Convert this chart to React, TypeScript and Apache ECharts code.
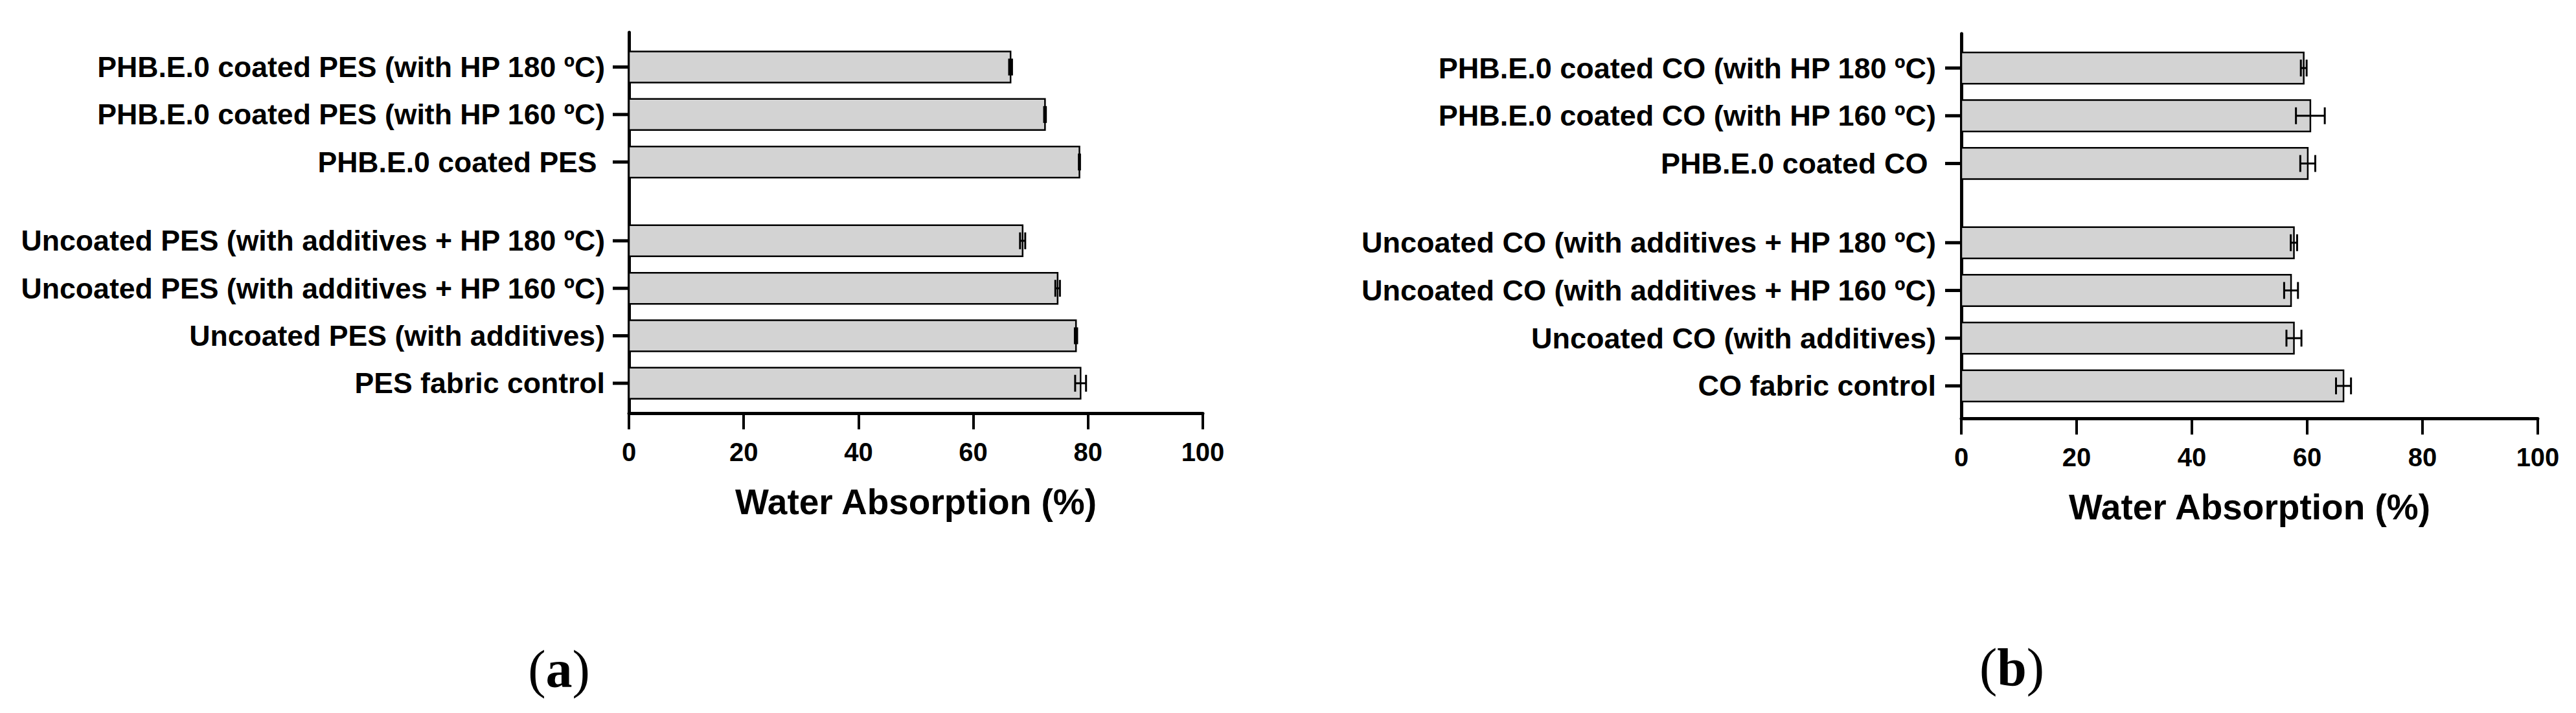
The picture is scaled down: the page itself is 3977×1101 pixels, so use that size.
import React, { useEffect, useRef } from "react";
import * as echarts from "echarts";

// ---------- Data (bottom to top, as drawn) ----------
const categoriesA = [
  "PES fabric control",
  "Uncoated PES (with additives)",
  "Uncoated PES (with additives + HP 160 ºC)",
  "Uncoated PES (with additives + HP 180 ºC)",
  "PHB.E.0 coated PES ",
  "PHB.E.0 coated PES (with HP 160 ºC)",
  "PHB.E.0 coated PES (with HP 180 ºC)",
];
const groupsA = [0, 0, 0, 0, 1, 1, 1];
const valuesA = [78.7, 77.9, 74.7, 68.6, 78.5, 72.5, 66.5];
const errorsA = [0.95, 0.2, 0.4, 0.45, 0.1, 0.15, 0.25];

const categoriesB = [
  "CO fabric control",
  "Uncoated CO (with additives)",
  "Uncoated CO (with additives + HP 160 ºC)",
  "Uncoated CO (with additives + HP 180 ºC)",
  "PHB.E.0 coated CO ",
  "PHB.E.0 coated CO (with HP 160 ºC)",
  "PHB.E.0 coated CO (with HP 180 ºC)",
];
const groupsB = [0, 0, 0, 0, 1, 1, 1];
const valuesB = [66.3, 57.7, 57.2, 57.7, 60.1, 60.55, 59.4];
const errorsB = [1.3, 1.3, 1.2, 0.55, 1.3, 2.5, 0.5];

const xTicks = [0, 20, 40, 60, 80, 100];
const xAxisTitle = "Water Absorption (%)";
const panelLabels = ["a", "b"];

// ---------- Layout ----------
const GAP_EXTRA = 0.66;
const SANS = '"Liberation Sans", Arial, sans-serif';
const SERIF = '"Liberation Serif", "Times New Roman", serif';

function makeData(values: number[], errors: number[], groups: number[]) {
  return values.map((v, i) => [v, i + groups[i] * GAP_EXTRA, errors[i], i]);
}

function makeRender(categories: string[], fontSize: number, labelOffset: number) {
  return function (params: any, api: any) {
    const v = api.value(0);
    const pos = api.value(1);
    const err = api.value(2);
    const idx = api.value(3);
    const base = api.coord([0, pos]);
    const end = api.coord([v, pos]);
    const lo = api.coord([v - err, pos]);
    const hi = api.coord([v + err, pos]);
    const band = api.size([0, 1])[1];
    const h = band * 0.655;
    const cap = 13;
    const y = base[1];
    return {
      type: "group",
      children: [
        {
          type: "rect",
          shape: { x: base[0], y: y - h / 2, width: end[0] - base[0], height: h },
          style: { fill: "#d3d3d3", stroke: "#000", lineWidth: 2.5 },
        },
        {
          type: "line",
          shape: { x1: lo[0], y1: y, x2: hi[0], y2: y },
          style: { stroke: "#000", lineWidth: 3 },
        },
        {
          type: "line",
          shape: { x1: lo[0], y1: y - cap, x2: lo[0], y2: y + cap },
          style: { stroke: "#000", lineWidth: 3 },
        },
        {
          type: "line",
          shape: { x1: hi[0], y1: y - cap, x2: hi[0], y2: y + cap },
          style: { stroke: "#000", lineWidth: 3 },
        },
        {
          type: "line",
          shape: { x1: base[0] - 25, y1: y, x2: base[0], y2: y },
          style: { stroke: "#000", lineWidth: 5 },
        },
        {
          type: "text",
          style: {
            text: categories[idx],
            x: base[0] - labelOffset,
            y: y,
            align: "right",
            verticalAlign: "middle",
            textAlign: "right",
            textVerticalAlign: "middle",
            font: `bold ${fontSize}px ${SANS}`,
            fill: "#000",
          },
        },
      ],
    };
  };
}

function xAxisDef(gridIndex: number) {
  return {
    type: "value",
    gridIndex,
    min: xTicks[0],
    max: xTicks[xTicks.length - 1],
    interval: xTicks[1] - xTicks[0],
    name: xAxisTitle,
    nameLocation: "middle",
    nameGap: 137,
    nameTextStyle: {
      fontFamily: SANS,
      fontWeight: "bold",
      fontSize: 55,
      color: "#000",
      verticalAlign: "middle",
    },
    axisLine: { show: true, onZero: false, lineStyle: { color: "#000", width: 5 } },
    axisTick: { show: true, length: 25, lineStyle: { color: "#000", width: 4 } },
    axisLabel: {
      show: true,
      margin: 40,
      fontFamily: SANS,
      fontWeight: "bold",
      fontSize: 40,
      color: "#000",
    },
    splitLine: { show: false },
  };
}

function yAxisDef(gridIndex: number, min: number, max: number) {
  return {
    type: "value",
    gridIndex,
    min,
    max,
    axisLine: { show: true, onZero: false, lineStyle: { color: "#000", width: 5 } },
    axisTick: { show: false },
    axisLabel: { show: false },
    splitLine: { show: false },
  };
}

function labelGraphic(letter: string, x: number, y: number) {
  return {
    type: "text",
    x,
    y,
    style: {
      text: `{n|(}{b|${letter}}{n|)}`,
      align: "center",
      verticalAlign: "middle",
      textAlign: "center",
      textVerticalAlign: "middle",
      rich: {
        n: { fontFamily: SERIF, fontSize: 82, fill: "#000", color: "#000" },
        b: { fontFamily: SERIF, fontSize: 82, fontWeight: "bold", fill: "#000", color: "#000" },
      },
    },
  };
}

export default function App() {
  const ref = useRef<HTMLDivElement>(null);
  useEffect(() => {
    if (!ref.current) return;
    const chart = echarts.init(ref.current, undefined, { renderer: "svg" });
    chart.setOption({
      animation: false,
      backgroundColor: "#fff",
      grid: [
        { left: 971, top: 50, width: 886, height: 588 },
        { left: 3028, top: 52, width: 890, height: 594 },
      ],
      xAxis: [xAxisDef(0), xAxisDef(1)],
      yAxis: [yAxisDef(0, -0.63, 7.39), yAxisDef(1, -0.68, 7.38)],
      series: [
        {
          type: "custom",
          xAxisIndex: 0,
          yAxisIndex: 0,
          clip: false,
          encode: { x: 0, y: 1 },
          data: makeData(valuesA, errorsA, groupsA),
          renderItem: makeRender(categoriesA, 44.6, 37),
        },
        {
          type: "custom",
          xAxisIndex: 1,
          yAxisIndex: 1,
          clip: false,
          encode: { x: 0, y: 1 },
          data: makeData(valuesB, errorsB, groupsB),
          renderItem: makeRender(categoriesB, 45, 39),
        },
      ],
      graphic: [labelGraphic(panelLabels[0], 863, 1033), labelGraphic(panelLabels[1], 3106, 1030)],
    });
    return () => chart.dispose();
  }, []);
  return (
    <div
      ref={ref}
      style={{ position: "absolute", left: 0, top: 0, width: 3977, height: 1101, background: "#fff" }}
    />
  );
}
